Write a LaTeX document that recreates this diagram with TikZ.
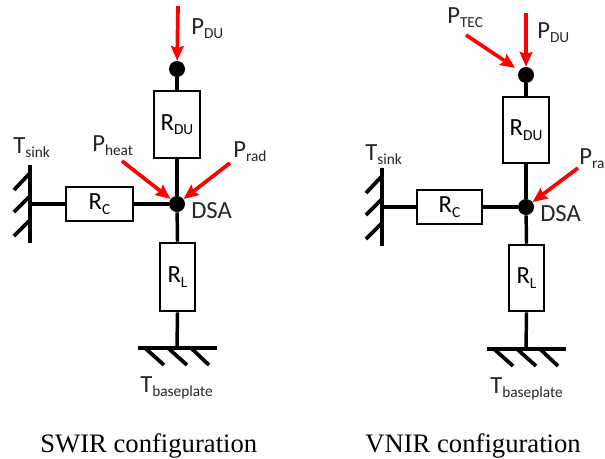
\documentclass[tikz,border=0pt]{standalone}
\usepackage{fontspec}
\setmainfont{Carlito}
\newfontfamily\capfont{Liberation Serif}
\usetikzlibrary{arrows.meta}
\newcommand{\symb}[2]{#1\raisebox{-0.38ex}{\fontsize{11.5pt}{14pt}\selectfont #2}}

\begin{document}
\begin{tikzpicture}[
  x=0.75pt, y=-0.75pt,
  font=\fontsize{18.5pt}{22pt}\selectfont,
  res/.style={draw, line width=1.9pt, inner sep=0pt, align=center, fill=white},
  dot/.style={circle, fill=black, inner sep=0pt, minimum size=12pt},
  wire/.style={line width=2.6pt},
  hatch/.style={line width=2.8pt},
  heat/.style={-{Stealth[length=11pt, width=9.5pt, inset=1.5pt]}, draw=red, line width=2.8pt},
  lbl/.style={anchor=base west, inner sep=0pt, text=black!85},
  captxt/.style={anchor=base west, inner sep=0pt, font=\capfont\fontsize{20pt}{22pt}\selectfont}
]
\useasboundingbox (0,0) rectangle (605,458);

%% --- SWIR ---
\node[dot] (topL) at (177, 69) {};
\node[dot] (dsaL) at (177,204) {};
\node[res, minimum width=34.5pt, minimum height=50pt] (rduL) at (177,124.5) {\symb{R}{DU}};
\node[res, minimum width=50pt, minimum height=25.5pt] (rcL)  at (99.5,204) {\symb{R}{C}};
\node[res, minimum width=26pt, minimum height=51pt]   (rlL)  at (177.5,277) {\symb{R}{L}};
\coordinate (wallL)  at (30,204);
\coordinate (gndL)   at (177,348);
\coordinate (srcDuL)   at (178,6);
\coordinate (srcHeatL) at (122,161);
\coordinate (srcRadL)  at (230,163);

\draw[wire] (topL) -- (rduL.north);
\draw[wire] (rduL.south) -- (dsaL);
\draw[wire] (dsaL) -- (rlL.north);
\draw[wire] (rlL.south) -- (gndL);
\draw[wire] (dsaL) -- (rcL.east);
\draw[wire] (rcL.west) -- (wallL);

%% --- sink and baseplate ---
\draw[hatch] (30,165) -- (30,243);
\draw[hatch] (14,190) -- (30,173);
\draw[hatch] (14,212) -- (30,196);
\draw[hatch] (14,236) -- (30,220);
\draw[hatch] (138,348) -- (217,348);
\draw[hatch] (145,348) -- (164,365);
\draw[hatch] (168,348) -- (187,365);
\draw[hatch] (191,348) -- (209,365);

\draw[heat] (srcDuL) -- (topL);
\draw[heat] (srcHeatL) -- (dsaL);
\draw[heat] (srcRadL) -- (dsaL);

\node[lbl] (pduL)   at (191, 34) {\symb{P}{DU}};
\node[lbl] (tsinkL) at (13,153)  {\symb{T}{sink}};
\node[lbl] (pheatL) at (92,151)  {\symb{P}{heat}};
\node[lbl] (pradL)  at (233,157) {\symb{P}{rad}};
\node[lbl] (nameL)  at (191,218) {DSA};
\node[lbl] (tbaseL) at (140,392) {\symb{T}{baseplate}};
\node[captxt] (capL)   at (40,452)  {SWIR configuration};

%% --- VNIR ---
\node[dot] (topR) at (526, 75) {};
\node[dot] (dsaR) at (526,207) {};
\node[res, minimum width=34.5pt, minimum height=49.5pt] (rduR) at (526,130) {\symb{R}{DU}};
\node[res, minimum width=48.5pt, minimum height=25.5pt] (rcR)  at (449.5,207) {\symb{R}{C}};
\node[res, minimum width=26pt, minimum height=49.5pt]   (rlR)  at (526.5,278) {\symb{R}{L}};
\coordinate (wallR)  at (382,207);
\coordinate (gndR)   at (526,349);
\coordinate (srcDuR)  at (526,13);
\coordinate (srcTecR) at (466,35);
\coordinate (srcRadR) at (578,168);

\draw[wire] (topR) -- (rduR.north);
\draw[wire] (rduR.south) -- (dsaR);
\draw[wire] (dsaR) -- (rlR.north);
\draw[wire] (rlR.south) -- (gndR);
\draw[wire] (dsaR) -- (rcR.east);
\draw[wire] (rcR.west) -- (wallR);

\draw[hatch] (382,168) -- (382,246);
\draw[hatch] (366,193) -- (382,176);
\draw[hatch] (366,215) -- (382,199);
\draw[hatch] (366,239) -- (382,223);
\draw[hatch] (487,349) -- (566,349);
\draw[hatch] (494,349) -- (513,366);
\draw[hatch] (517,349) -- (536,366);
\draw[hatch] (540,349) -- (558,366);

\draw[heat] (srcDuR) -- (topR);
\draw[heat, shorten >=3.5pt] (srcTecR) -- (topR);
\draw[heat] (srcRadR) -- (dsaR);

\node[lbl] (ptecR)  at (447, 23) {\symb{P}{TEC}};
\node[lbl] (pduR)   at (537, 38) {\symb{P}{DU}};
\node[lbl] (tsinkR) at (365,160) {\symb{T}{sink}};
\node[lbl] (pradR)  at (579,164) {\symb{P}{ra}};
\node[lbl] (nameR)  at (540,221) {DSA};
\node[lbl] (tbaseR) at (490,393) {\symb{T}{baseplate}};
\node[captxt] (capR)   at (365,452) {VNIR configuration};

\end{tikzpicture}
\end{document}
